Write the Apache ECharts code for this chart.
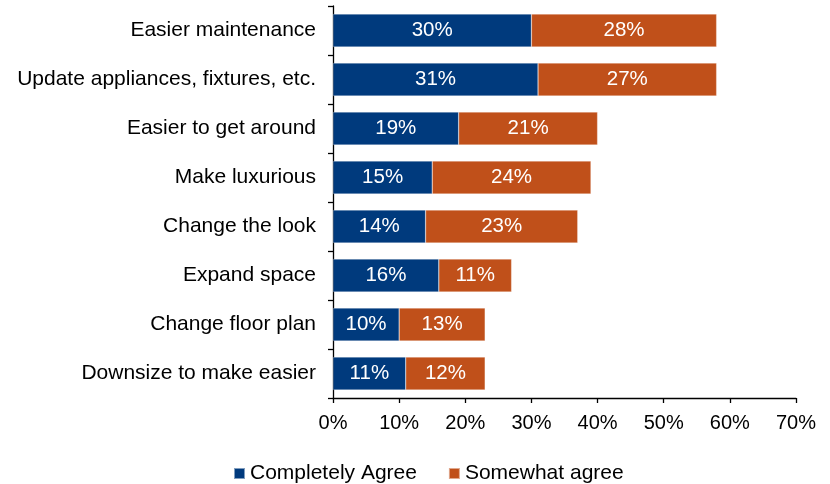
<!DOCTYPE html>
<html>
<head>
<meta charset="utf-8">
<script src="https://cdn.jsdelivr.net/npm/echarts@6/dist/echarts.min.js"></script>
<style>
  html, body { margin: 0; padding: 0; background: #fff; }
  #chart { width: 830px; height: 484px; }
</style>
</head>
<body>
<div id="chart"></div>
<script>
// data, top to bottom
const categories = [
  'Easier maintenance',
  'Update appliances, fixtures, etc.',
  'Easier to get around',
  'Make luxurious',
  'Change the look',
  'Expand space',
  'Change floor plan',
  'Downsize to make easier'
]
const completelyAgree = [30, 31, 19, 15, 14, 16, 10, 11]
const somewhatAgree = [28, 27, 21, 24, 23, 11, 13, 12]
const seriesNames = ['Completely Agree', 'Somewhat agree']

const font = 'Liberation Sans, Arial, sans-serif'

const chart = echarts.init(document.getElementById('chart'))

function barSeries(name, data, color) {
  return {
    name: name,
    type: 'bar',
    stack: 'total',
    barCategoryGap: '33%',
    data: data,
    itemStyle: { color: color, borderColor: 'rgba(255,255,255,0.5)', borderWidth: 0.5 },
    label: {
      show: true,
      position: 'inside',
      color: '#fff',
      fontFamily: font,
      fontSize: 20.5,
      formatter: p => p.value + '%'
    }
  }
}

chart.setOption({
  animation: false,
  color: ['#003A7D', '#C0501A'],
  grid: { left: 333, right: 34, top: 6, bottom: 86, containLabel: false },
  legend: {
    data: seriesNames,
    left: 228,
    top: 458,
    icon: 'rect',
    itemWidth: 11,
    itemHeight: 11,
    itemGap: 31,
    textStyle: { color: '#000', fontFamily: font, fontSize: 21 }
  },
  xAxis: {
    type: 'value',
    min: 0,
    max: 70,
    interval: 10,
    axisLine: { show: true, lineStyle: { color: '#000', width: 1.3 } },
    axisTick: { show: true, length: 5, lineStyle: { color: '#000', width: 1.3 } },
    splitLine: { show: false },
    axisLabel: { color: '#000', fontFamily: font, fontSize: 20, margin: 15, formatter: '{value}%' }
  },
  yAxis: {
    type: 'category',
    inverse: true,
    data: categories,
    axisLine: { show: true, lineStyle: { color: '#000', width: 1.3 } },
    axisTick: { show: true, length: 5, lineStyle: { color: '#000', width: 1.3 } },
    axisLabel: { color: '#000', fontFamily: font, fontSize: 21, margin: 17 }
  },
  series: [
    barSeries(seriesNames[0], completelyAgree, '#003A7D'),
    barSeries(seriesNames[1], somewhatAgree, '#C0501A')
  ]
})
</script>
</body>
</html>
